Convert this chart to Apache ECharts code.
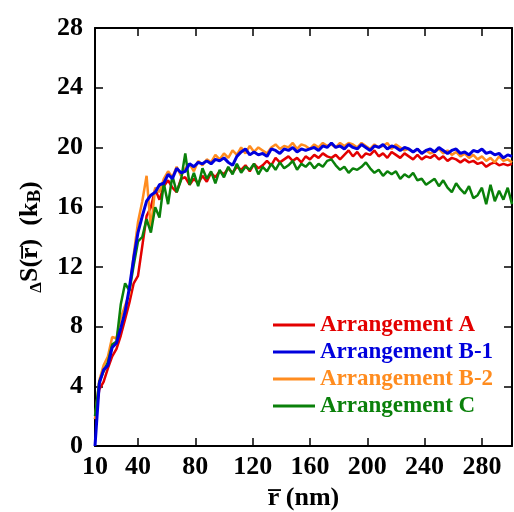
<!DOCTYPE html>
<html>
<head>
<meta charset="utf-8">
<script src="https://cdn.jsdelivr.net/npm/echarts@6/dist/echarts.min.js"></script>
<style>
  html, body { margin: 0; padding: 0; background: #fff; }
  #chart { width: 514px; height: 512px; }
</style>
</head>
<body>
<div id="chart"></div>
<script>
  // r (nm) sampling grid
  const rValues = [
    10, 13, 16, 19, 22, 25, 28, 31, 34, 37,
    40, 43, 46, 49, 52, 55, 58, 61, 64, 67,
    70, 73, 76, 79, 82, 85, 88, 91, 94, 97,
    100, 103, 106, 109, 112, 115, 118, 121, 124, 127,
    130, 133, 136, 139, 142, 145, 148, 151, 154, 157,
    160, 163, 166, 169, 172, 175, 178, 181, 184, 187,
    190, 193, 196, 199, 202, 205, 208, 211, 214, 217,
    220, 223, 226, 229, 232, 235, 238, 241, 244, 247,
    250, 253, 256, 259, 262, 265, 268, 271, 274, 277,
    280, 283, 286, 289, 292, 295, 298, 301
  ];

  const arrangementA = [
    1.8, 3.8, 4.3, 5.2, 6.0, 6.5, 7.4, 8.5, 9.6, 10.9,
    11.4, 13.4, 15.4, 16.0, 17.2, 16.5, 17.4, 17.8, 17.3, 17.0,
    17.9, 18.0, 17.5, 17.9, 17.6, 18.1, 17.7, 18.3, 18.0, 18.4,
    18.2, 18.6, 18.3, 18.7, 18.5, 18.8, 18.4, 18.9, 18.6, 18.8,
    19.1, 18.8, 19.3, 19.0, 19.2, 19.4, 19.1, 19.3, 19.0, 19.4,
    19.2, 19.5, 19.3, 19.6, 19.4, 19.3, 19.5, 19.2, 19.5, 19.8,
    19.4, 19.7, 19.3, 19.6, 19.5, 19.8, 19.4, 19.6, 19.3, 19.7,
    19.5, 19.3, 19.6, 19.4, 19.2, 19.5, 19.2, 19.4, 19.3, 19.5,
    19.2, 19.4, 19.1, 19.3, 19.2, 19.0, 19.2, 19.0, 19.1, 18.9,
    19.0, 18.7, 18.9, 19.0, 18.8, 18.9, 18.8, 18.9
  ];

  const arrangementB1 = [
    0, 4.2, 5.1, 5.4, 6.6, 6.9, 7.9, 9.0, 10.6, 12.6,
    14.3, 15.4, 16.4, 16.8, 17.0, 17.5, 17.6, 18.2, 17.9, 18.6,
    18.3, 18.4, 18.9, 18.7, 19.0, 18.9, 19.1, 18.9, 19.2, 19.1,
    19.3, 19.0, 18.8, 19.4, 19.7, 19.9, 19.5, 19.7, 19.5, 19.6,
    19.4, 19.9, 19.8, 19.6, 19.9, 19.8, 20.0, 19.7, 19.9, 19.8,
    19.9, 20.0, 19.8, 20.1, 20.0, 20.3, 20.0, 20.1, 19.9, 20.2,
    20.0, 19.9, 20.2, 20.0, 19.8, 20.1, 20.0, 20.2, 19.9, 20.1,
    20.0, 19.8, 20.0, 19.9, 19.7, 19.9, 19.6, 19.8, 19.9, 19.7,
    20.0, 19.8, 19.6, 19.8, 19.9, 19.6, 19.7, 19.5, 19.8, 19.7,
    19.9, 19.6, 19.7, 19.5, 19.6, 19.3, 19.5, 19.4
  ];

  const arrangementB2 = [
    1.8, 4.4, 5.4, 6.0, 7.3, 7.2, 8.6, 9.4, 10.2, 12.8,
    15.0, 16.4, 18.1, 14.5, 17.3, 17.0, 17.9, 18.4, 18.0, 18.7,
    18.1, 18.6, 18.9, 18.4, 19.1, 18.8, 19.2, 19.0, 19.5, 19.2,
    19.6, 19.3, 19.8, 19.5, 20.0, 19.6, 20.1, 19.7, 20.0, 19.8,
    19.6, 20.0, 20.2, 19.9, 20.1, 20.0, 20.3, 19.9, 20.2, 20.1,
    19.9, 20.2, 20.0, 20.3, 20.1, 20.2, 20.0, 20.3, 20.1, 20.3,
    20.2, 20.0, 20.3, 20.1, 19.9, 20.2, 20.0, 20.1, 20.3, 19.9,
    20.2, 20.0, 19.8, 19.9, 19.7, 19.9, 19.6, 19.8, 19.6, 19.7,
    19.9, 19.6, 19.8, 19.5, 19.7, 19.4, 19.6, 19.3, 19.5, 19.2,
    19.4, 19.1, 19.3, 19.0, 19.4, 19.1, 19.2, 19.0
  ];

  const arrangementC = [
    2.0, 4.3, 5.0, 5.6, 6.8, 7.0, 9.5, 10.9, 10.4, 12.1,
    13.7, 14.0, 15.2, 14.3, 16.0, 15.3, 17.6, 16.2, 18.1, 17.0,
    17.8, 19.6, 17.5, 18.3, 17.4, 18.6, 17.9, 18.4, 17.6, 18.5,
    18.0, 18.7, 18.2, 18.9, 18.3, 18.7, 18.5, 18.9, 18.2, 18.7,
    18.4, 18.9, 18.5, 19.0, 18.6, 18.8, 19.1, 18.5, 18.9, 18.7,
    19.0, 18.6, 18.9, 18.7, 19.1, 19.2, 18.8, 18.5, 18.7, 18.3,
    18.6, 18.5, 18.7, 19.0, 18.6, 18.3, 18.5, 18.1, 18.4, 18.2,
    18.4, 17.9, 18.2, 18.0, 18.3, 17.8, 17.9, 17.5, 17.7, 17.9,
    17.4, 17.8, 17.3, 17.0, 17.6, 17.2, 16.9, 17.4, 16.6, 16.8,
    17.3, 16.2, 17.5, 16.4, 17.1, 16.5, 17.3, 16.2
  ];

  const xTickLabels = [10, 40, 80, 120, 160, 200, 240, 280];
  const xTicks = [40, 80, 120, 160, 200, 240, 280];

  const colors = {
    'Arrangement A': '#e30000',
    'Arrangement B-1': '#0000dd',
    'Arrangement B-2': '#ff8c1f',
    'Arrangement C': '#0a800a'
  };

  const font = 'Liberation Serif';
  const myChart = echarts.init(document.getElementById('chart'));

  function pairs(ys) {
    return rValues.map((x, i) => [x, ys[i]]);
  }

  function makeSeries(name, ys, width) {
    return {
      name: name,
      type: 'line',
      data: pairs(ys),
      showSymbol: false,
      symbol: 'none',
      color: colors[name],
      lineStyle: {width: width, color: colors[name]}
    };
  }

  const axisLine = {show: true, onZero: false, lineStyle: {color: '#000', width: 2}};
  const tick = {inside: true, length: 8, lineStyle: {color: '#000', width: 1.5}};

  function legendItem(name) {
    return {name: name, icon: 'rect', itemStyle: {color: colors[name]}, textStyle: {color: colors[name]}};
  }

  const option = {
    animation: false,
    backgroundColor: '#fff',
    grid: {left: 95, right: 2, top: 28, bottom: 66, containLabel: false, outerBoundsMode: 'none'},
    legend: {
      orient: 'vertical',
      left: 268,
      top: 308,
      itemWidth: 42,
      itemHeight: 3,
      itemGap: 3,
      textStyle: {fontFamily: font, fontWeight: 'bold', fontSize: 23, lineHeight: 24},
      data: [
        legendItem('Arrangement A'),
        legendItem('Arrangement B-1'),
        legendItem('Arrangement B-2'),
        legendItem('Arrangement C')
      ]
    },
    xAxis: [
      {
        type: 'value',
        min: 10,
        max: 301,
        position: 'bottom',
        name: 'r\u0305 (nm)',
        nameLocation: 'middle',
        nameGap: 39,
        nameTextStyle: {fontFamily: font, fontWeight: 'bold', fontSize: 26, color: '#000'},
        axisLine: axisLine,
        axisTick: Object.assign({customValues: xTicks}, tick),
        axisLabel: {
          customValues: xTickLabels,
          margin: 8,
          fontFamily: font, fontWeight: 'bold', fontSize: 26, color: '#000'
        },
        splitLine: {show: false}
      },
      {
        type: 'value',
        min: 10,
        max: 301,
        position: 'top',
        axisLine: axisLine,
        axisTick: Object.assign({customValues: xTicks}, tick),
        axisLabel: {show: false},
        splitLine: {show: false}
      }
    ],
    yAxis: [
      {
        type: 'value',
        min: 0,
        max: 28,
        interval: 4,
        position: 'left',
        name: '{d|\u0394}{m|S(r\u0305)  (k}{s|B}{m|)}',
        nameLocation: 'middle',
        nameGap: 50,
        nameTextStyle: {
          fontFamily: font, fontWeight: 'bold', fontSize: 26, color: '#000',
          rich: {
            d: {fontFamily: font, fontSize: 17, color: '#000', lineHeight: 30, verticalAlign: 'bottom'},
            m: {fontFamily: font, fontWeight: 'bold', fontSize: 26, color: '#000', lineHeight: 30},
            s: {fontFamily: font, fontWeight: 'bold', fontSize: 19, color: '#000', lineHeight: 30, verticalAlign: 'bottom', padding: [14, 0, 0, 0]}
          }
        },
        axisLine: axisLine,
        axisTick: tick,
        axisLabel: {margin: 12, fontFamily: font, fontWeight: 'bold', fontSize: 26, color: '#000'},
        splitLine: {show: false}
      },
      {
        type: 'value',
        min: 0,
        max: 28,
        interval: 4,
        position: 'right',
        axisLine: axisLine,
        axisTick: tick,
        axisLabel: {show: false},
        splitLine: {show: false}
      }
    ],
    series: [
      makeSeries('Arrangement A', arrangementA, 2.5),
      makeSeries('Arrangement B-2', arrangementB2, 2.5),
      makeSeries('Arrangement C', arrangementC, 2.5),
      makeSeries('Arrangement B-1', arrangementB1, 3)
    ]
  };

  myChart.setOption(option);
</script>
</body>
</html>
